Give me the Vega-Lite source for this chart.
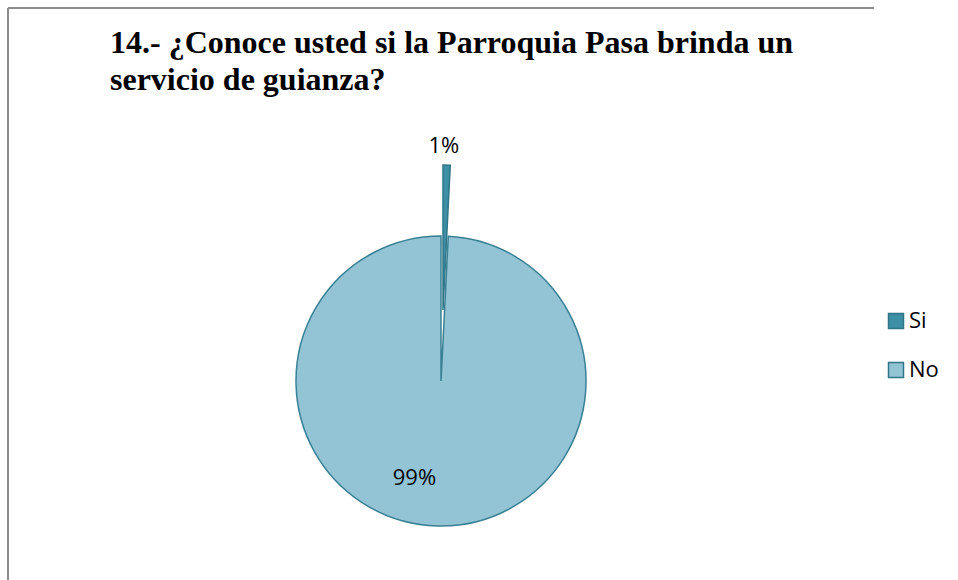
{
  "$schema": "https://vega.github.io/schema/vega-lite/v6.json",
  "autosize": {"type": "none"},
  "padding": {"left": 8, "top": 8, "right": 84, "bottom": 0},
  "width": 866,
  "height": 746,
  "background": "white",
  "view": {"stroke": "#8c8c8c", "strokeWidth": 2, "strokeDash": [866, 1612, 746, 0]},
  "title": {
    "text": ["14.- ¿Conoce usted si la Parroquia Pasa brinda un", "servicio de guianza?"],
    "font": "Liberation Serif",
    "fontSize": 32,
    "fontWeight": "bold",
    "color": "black",
    "anchor": "start",
    "frame": "group",
    "orient": "top",
    "baseline": "alphabetic",
    "offset": 0,
    "dx": 102,
    "dy": 114,
    "lineHeight": 37
  },
  "data": {
    "values": [
      {"cat": "Si", "value": 0.8, "label": "1%"},
      {"cat": "No", "value": 99.2, "label": "99%"}
    ]
  },
  "encoding": {
    "theta": {"field": "value", "type": "quantitative", "stack": true},
    "order": {"field": "cat", "sort": "descending"}
  },
  "layer": [
    {
      "mark": {"type": "arc", "outerRadius": 145, "stroke": "#3a8094", "strokeWidth": 1.5},
      "encoding": {
        "color": {
          "field": "cat", "type": "nominal",
          "scale": {"domain": ["Si", "No"], "range": ["#3d8fa5", "#93c4d5"]},
          "legend": {
            "title": null, "orient": "none", "legendX": 877, "legendY": 302,
            "symbolType": "square", "symbolSize": 225, "symbolStrokeColor": "#2f7689", "symbolStrokeWidth": 1.5,
            "labelFont": "Open Sans", "labelFontSize": 22, "labelColor": "black",
            "rowPadding": 27, "labelOffset": 2
          }
        },
        "opacity": {"condition": {"test": "datum.cat === 'Si'", "value": 0}, "value": 1}
      }
    },
    {
      "mark": {"type": "arc", "outerRadius": 145, "stroke": "#2f7689", "strokeWidth": 1.5, "xOffset": 2, "yOffset": -71},
      "encoding": {
        "color": {"field": "cat", "type": "nominal"},
        "opacity": {"condition": {"test": "datum.cat === 'Si'", "value": 1}, "value": 0}
      }
    },
    {
      "mark": {"type": "text", "radius": 235, "font": "Open Sans", "fontSize": 22, "color": "black", "dx": -3},
      "encoding": {
        "text": {"field": "label"},
        "opacity": {"condition": {"test": "datum.cat === 'Si'", "value": 1}, "value": 0}
      }
    },
    {
      "mark": {"type": "text", "radius": 102, "font": "Open Sans", "fontSize": 22, "color": "black", "dx": -24, "dy": -5},
      "encoding": {
        "text": {"field": "label"},
        "opacity": {"condition": {"test": "datum.cat === 'No'", "value": 1}, "value": 0}
      }
    }
  ]
}
